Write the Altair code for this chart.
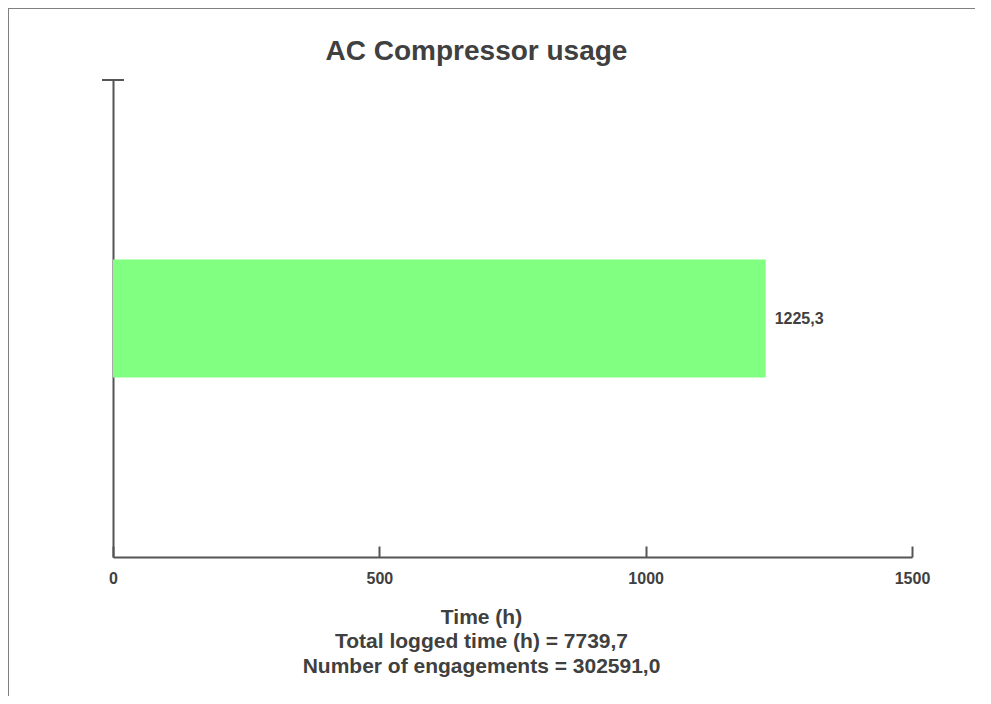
import altair as alt
import pandas as pd

# data
categories = ["AC Compressor"]
hours = [1225.3]
x_ticks = [0, 500, 1000, 1500]
total_logged_time = 7739.7
engagements = 302591.0
chart_title = "AC Compressor usage"

def comma(v):
    return f"{v:.1f}".replace(".", ",")

df = pd.DataFrame({
    "cat": categories,
    "hours": hours,
    "label": [comma(v) for v in hours],
})

FONT = "Liberation Sans"
TXT = "#404040"
AX = "#555555"

W, H = 799, 477

xscale = alt.Scale(domain=[0, 1500], nice=False, zero=True)
yscale = alt.Scale(paddingInner=0.343, paddingOuter=1)
yaxis = alt.Axis(labels=False, ticks=False, title=None, grid=False,
                 domainColor=AX, domainWidth=2)

axis_title = [
    "Time (h)",
    f"Total logged time (h) = {comma(total_logged_time)}",
    f"Number of engagements = {comma(engagements)}",
]

base = alt.Chart(df)

bars = base.mark_bar(color="#80FF80").encode(
    x=alt.X("hours:Q", scale=xscale,
            axis=alt.Axis(values=x_ticks, format="d", orient="bottom",
                          ticks=False, grid=False, domain=True,
                          domainColor=AX, domainWidth=2, labelFlush=False,
                          labelFont=FONT, labelFontSize=16, labelFontWeight="bold",
                          labelColor=TXT, labelPadding=13,
                          title=axis_title, titleFont=FONT, titleFontSize=21,
                          titleFontWeight="bold", titleColor=TXT,
                          titleLineHeight=24.5, titleBaseline="top",
                          titleX=368, titleY=49, titleAnchor="middle", titleAlign="center")),
    y=alt.Y("cat:N", scale=yscale, axis=yaxis),
)

labels = base.mark_text(align="left", baseline="middle", dx=9, font=FONT,
                        fontSize=16, fontWeight="bold", color=TXT).encode(
    x=alt.X("hours:Q", scale=xscale,
            axis=alt.Axis(values=x_ticks, orient="bottom", offset=-11, labels=False,
                          domain=False, grid=False, ticks=True, tickSize=11,
                          tickColor=AX, tickWidth=2, title=None)),
    y=alt.Y("cat:N", scale=yscale, axis=yaxis),
    text="label:N",
)

top_tick = base.mark_rule(color=AX, strokeWidth=2).encode(
    x=alt.value(-11), x2=alt.value(11), y=alt.value(0)
)

frame = base.mark_rect(fill=None, stroke="#808080", strokeWidth=2, clip=False).encode(
    x=alt.value(-105), x2=alt.value(2000), y=alt.value(-72), y2=alt.value(2000)
)

chart = alt.layer(frame, bars, labels, top_tick).resolve_axis(
    x="independent"
).resolve_scale(x="shared").properties(
    width=W, height=H,
    autosize=alt.AutoSizeParams(type="none"),
    padding={"left": 105, "top": 72, "right": 63, "bottom": 139},
    title=alt.TitleParams(chart_title, font=FONT, fontSize=28, fontWeight="bold",
                          color=TXT, anchor="middle", frame="group", dx=-36,
                          baseline="alphabetic", offset=-81),
).configure_view(stroke="transparent", strokeWidth=0)

chart.save("out.html", embed_options={"renderer": "svg", "actions": False})
